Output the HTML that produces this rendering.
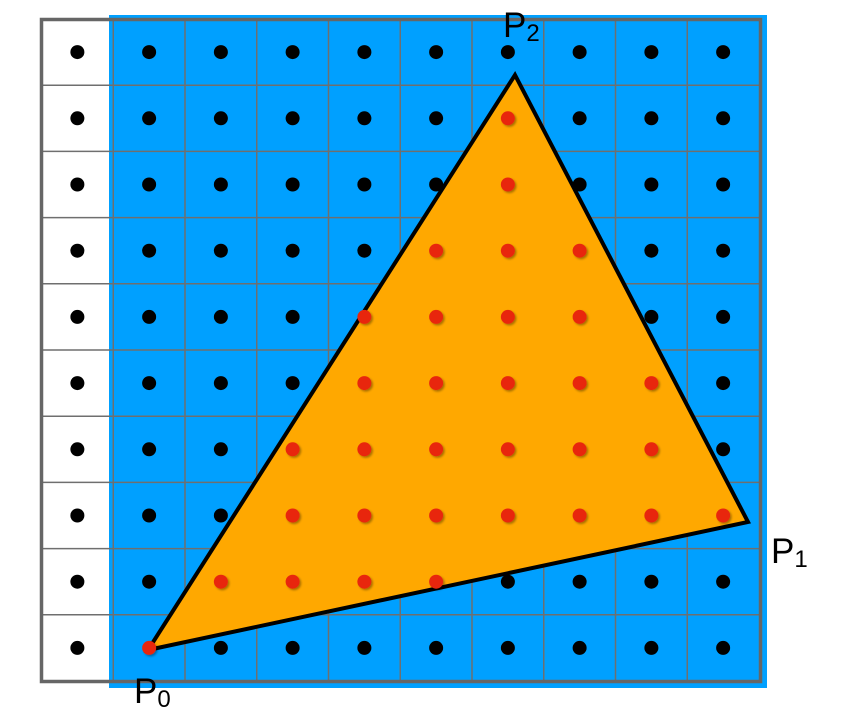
<!DOCTYPE html>
<html><head><meta charset="utf-8"><style>
html,body{margin:0;padding:0;background:#fff;}
svg{display:block;font-family:"Liberation Sans",sans-serif;}
</style></head><body>
<svg id="c" width="865" height="719" viewBox="0 0 865 719">
<defs><filter id="sh" x="-50%" y="-50%" width="200%" height="200%"><feDropShadow dx="1.5" dy="1.5" stdDeviation="1" flood-color="#000" flood-opacity="0.35"/></filter></defs>
<rect x="109" y="15" width="658" height="673" fill="#00a0ff"/>
<g id="grid"></g>
<polygon id="tri" fill="#ffa800" stroke="#000" stroke-width="4" stroke-linejoin="miter"/>
<g id="dots"></g>
<rect x="41.5" y="19.5" width="719" height="662" fill="none" stroke="#666" stroke-width="3.5"/>
<text x="503" y="37" font-size="35">P<tspan font-size="24" dy="4">2</tspan></text>
<text x="771" y="563" font-size="35">P<tspan font-size="24" dy="4">1</tspan></text>
<text x="134" y="703" font-size="35">P<tspan font-size="24" dy="4">0</tspan></text>
</svg>
<script>
const cols = 10;
const rows = 10;
const vertexX = [148, 748, 515];
const vertexY = [650, 522, 75];
const x0 = 41.5, y0 = 19, cw = 71.75, ch = 66.2;
const NS = "http://www.w3.org/2000/svg";
const grid = document.getElementById('grid');
for (let i = 1; i < cols; i++) {
  const l = document.createElementNS(NS, 'line');
  
  
  const x = x0 + i * cw;
  l.setAttribute('x1', x); l.setAttribute('x2', x);
  l.setAttribute('y1', y0); l.setAttribute('y2', y0 + rows * ch);
  l.setAttribute('stroke', '#6f6f6f'); l.setAttribute('stroke-width', '1.5');
  grid.appendChild(l);
}
for (let j = 1; j < rows; j++) {
  const l = document.createElementNS(NS, 'line');
  
  
  const y = y0 + j * ch;
  l.setAttribute('x1', x0); l.setAttribute('x2', x0 + cols * cw);
  l.setAttribute('y1', y); l.setAttribute('y2', y);
  l.setAttribute('stroke', '#6f6f6f'); l.setAttribute('stroke-width', '1.5');
  grid.appendChild(l);
}
const tri = document.getElementById('tri');
tri.setAttribute('points', vertexX.map((x, i) => x + ',' + vertexY[i]).join(' '));
function side(ax, ay, bx, by, px, py) { return (bx - ax) * (py - ay) - (by - ay) * (px - ax); }
function inside(px, py) {
  let pos = 0, neg = 0;
  for (let i = 0; i < 3; i++) {
    const j = (i + 1) % 3;
    const s = side(vertexX[i], vertexY[i], vertexX[j], vertexY[j], px, py);
    const len = Math.hypot(vertexX[j] - vertexX[i], vertexY[j] - vertexY[i]);
    const d = s / len;
    if (d > 3) pos++; else if (d < -3) neg++;
  }
  return !(pos && neg);
}
const dots = document.getElementById('dots');
for (let j = 0; j < rows; j++) for (let i = 0; i < cols; i++) {
  const cx = x0 + (i + 0.5) * cw, cy = y0 + (j + 0.5) * ch;
  const c = document.createElementNS(NS, 'circle');
  const inn = i > 0 && inside(cx, cy);
  
  
  c.setAttribute('cx', cx); c.setAttribute('cy', cy); c.setAttribute('r', 7);
  c.setAttribute('fill', inn ? '#e8280c' : '#000');
  if (inn) c.setAttribute('filter', 'url(#sh)');
  dots.appendChild(c);
}
</script>
</body></html>
